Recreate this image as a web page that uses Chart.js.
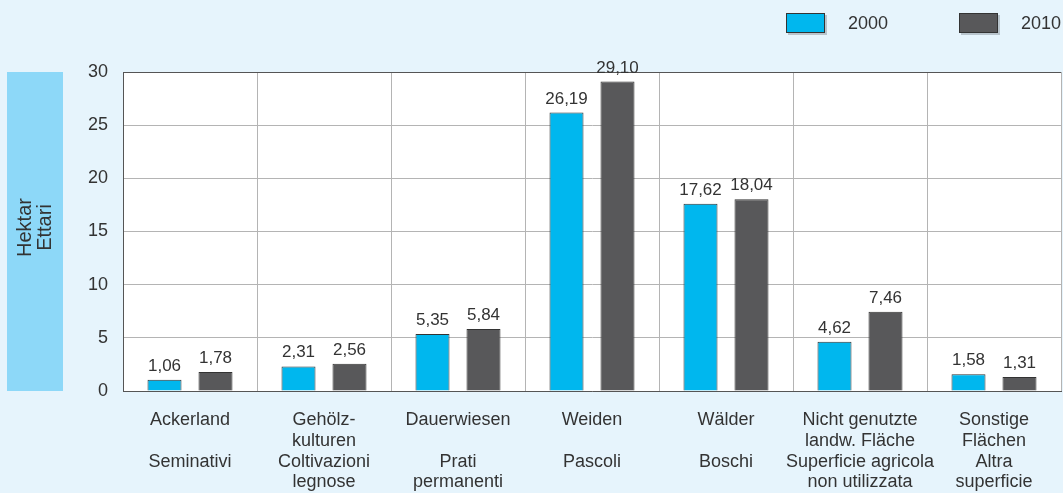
<!DOCTYPE html>
<html>
<head>
<meta charset="utf-8">
<script src="https://cdn.jsdelivr.net/npm/chart.js@4.4.1/dist/chart.umd.min.js"></script>
<style>
  html, body { margin: 0; padding: 0; background: #e6f4fc; }
  canvas { display: block; }
</style>
</head>
<body>
<canvas id="chart" width="1063" height="493"></canvas>
<script>
const categories = [
  ['Ackerland', '', 'Seminativi', ''],
  ['Gehölz-', 'kulturen', 'Coltivazioni', 'legnose'],
  ['Dauerwiesen', '', 'Prati', 'permanenti'],
  ['Weiden', '', 'Pascoli', ''],
  ['Wälder', '', 'Boschi', ''],
  ['Nicht genutzte', 'landw. Fläche', 'Superficie agricola', 'non utilizzata'],
  ['Sonstige', 'Flächen', 'Altra', 'superficie']
];
const values2000 = [1.06, 2.31, 5.35, 26.19, 17.62, 4.62, 1.58];
const values2010 = [1.78, 2.56, 5.84, 29.10, 18.04, 7.46, 1.31];
const seriesNames = ['2000', '2010'];
const yTicks = [0, 5, 10, 15, 20, 25, 30];
const yTitle = ['Hektar', 'Ettari'];

const FONT = '"Liberation Sans", Arial, sans-serif';
const colors = ['#00b7ee', '#58585a'];

const framePlugin = {
    id: 'frame',
    beforeDraw(chart) {
        const ctx = chart.ctx;
        const a = chart.chartArea;
        ctx.save();
        ctx.fillStyle = '#e6f4fc';
        ctx.fillRect(0, 0, chart.width, chart.height);
        ctx.fillStyle = '#ffffff';
        ctx.fillRect(a.left, a.top, a.right - a.left, a.bottom - a.top);

        // y title box
        ctx.fillStyle = '#8dd8f8';
        ctx.fillRect(7, a.top, 56, a.bottom - a.top);
        ctx.translate(35, (a.top + a.bottom) / 2 - 4);
        ctx.rotate(-Math.PI / 2);
        ctx.fillStyle = '#333333';
        ctx.font = '20px ' + FONT;
        ctx.textAlign = 'center';
        ctx.textBaseline = 'middle';
        ctx.fillText(yTitle[0], 0, -10);
        ctx.fillText(yTitle[1], 0, 10);
        ctx.restore();

        // legend
        ctx.save();
        ctx.font = '18px ' + FONT;
        ctx.textBaseline = 'middle';
        const xs = [786, 959];
        seriesNames.forEach((name, i) => {
            ctx.fillStyle = '#b8c4cc';
            ctx.fillRect(xs[i] + 2, 15, 39, 20);
            ctx.fillStyle = colors[i];
            ctx.fillRect(xs[i], 13, 39, 20);
            ctx.strokeStyle = '#333333';
            ctx.lineWidth = 1;
            ctx.strokeRect(xs[i] + 0.5, 13.5, 38, 19);
            ctx.fillStyle = '#333333';
            ctx.fillText(name, xs[i] + 62, 24);
        });
        ctx.restore();
    },
    afterDatasetsDraw(chart) {
        const ctx = chart.ctx;
        const a = chart.chartArea;
        ctx.save();
        ctx.strokeStyle = '#555555';
        ctx.lineWidth = 1;
        ctx.beginPath();
        ctx.moveTo(a.left, a.top + 0.5);
        ctx.lineTo(a.right, a.top + 0.5);
        ctx.stroke();

        ctx.fillStyle = '#333333';
        ctx.font = '17px ' + FONT;
        ctx.textAlign = 'center';
        ctx.textBaseline = 'alphabetic';
        chart.data.datasets.forEach((ds, i) => {
            chart.getDatasetMeta(i).data.forEach((bar, j) => {
                const txt = ds.data[j].toFixed(2).replace('.', ',');
                ctx.fillText(txt, bar.x, bar.y - 9);
            });
        });
        ctx.restore();
    }
};

new Chart(document.getElementById('chart'), {
    type: 'bar',
    data: {
        labels: categories,
        datasets: [
            { label: seriesNames[0], data: values2000, backgroundColor: colors[0], borderColor: '#333333', borderWidth: 1 },
            { label: seriesNames[1], data: values2010, backgroundColor: colors[1], borderColor: '#333333', borderWidth: 1 }
        ]
    },
    options: {
        responsive: false,
        animation: false,
        categoryPercentage: 0.761,
        barPercentage: 0.667,
        layout: { padding: { top: 72, right: 2, left: 0, bottom: 0 } },
        plugins: { legend: { display: false }, tooltip: { enabled: false } },
        scales: {
            x: {
                grid: { color: '#b4b4b4', drawTicks: false, offset: true },
                border: { color: '#555555' },
                ticks: {
                    color: '#333333',
                    font: { family: FONT, size: 18, lineHeight: 1.15 },
                    padding: 19,
                    maxRotation: 0,
                    autoSkip: false
                },
                afterFit(scale) { scale.height = 102; }
            },
            y: {
                min: 0,
                max: 30,
                afterBuildTicks(scale) { scale.ticks = yTicks.map(v => ({ value: v })); },
                grid: { color: '#b4b4b4', drawTicks: false },
                border: { color: '#555555' },
                ticks: {
                    color: '#333333',
                    font: { family: FONT, size: 18 },
                    padding: 15
                },
                afterFit(scale) { scale.width = 123; }
            }
        }
    },
    plugins: [framePlugin]
});
</script>
</body>
</html>
